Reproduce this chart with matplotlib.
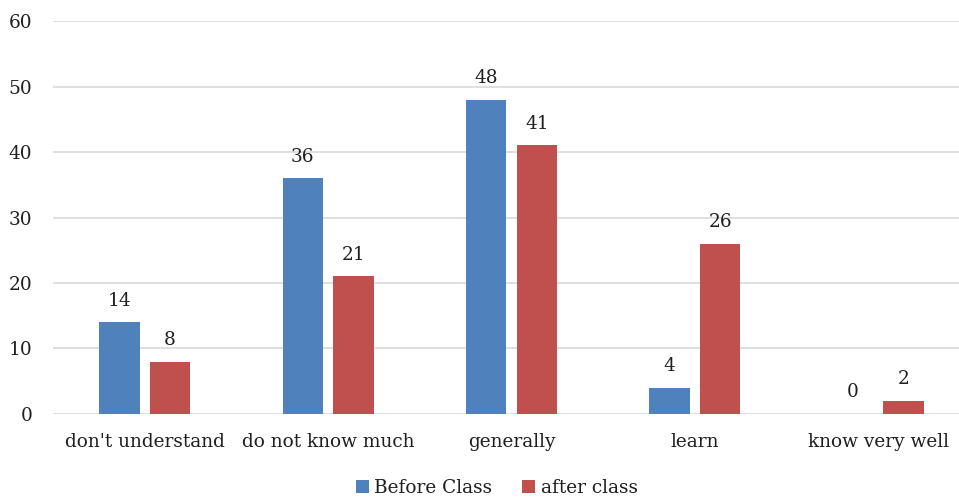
import matplotlib.pyplot as plt
import numpy as np

categories = ["don't understand", "do not know much", "generally", "learn", "know very well"]
before_class = [14, 36, 48, 4, 0]
after_class = [8, 21, 41, 26, 2]
y_ticks = [0, 10, 20, 30, 40, 50, 60]

plt.rcParams['font.family'] = ['DejaVu Serif']

fig = plt.figure(figsize=(9.59, 4.98), dpi=100)
ax = fig.add_axes([0.0553, 0.1687, 0.9447, 0.7891])

x = np.arange(len(categories))
width = 0.221
offset = 0.138

b1 = ax.bar(x - offset, before_class, width, color='#4F81BD', label='Before Class')
b2 = ax.bar(x + offset, after_class, width, color='#C0504D', label='after class')

# value labels above each bar
for bars, vals in [(b1, before_class), (b2, after_class)]:
    for rect, v in zip(bars, vals):
        ax.annotate(str(v), (rect.get_x() + rect.get_width() / 2, v),
                    xytext=(0, 9), textcoords='offset points',
                    ha='center', va='bottom', fontsize=13.3, color='#1f1f1f')

ax.set_xlim(-0.5, 4.44)
ax.set_ylim(0, 60)
ax.set_yticks(y_ticks)
ax.set_xticks(x)
ax.set_xticklabels(categories)
ax.tick_params(axis='both', length=0, labelsize=13.3, labelcolor='#1f1f1f')
ax.tick_params(axis='x', pad=14)
ax.tick_params(axis='y', pad=15)

ax.grid(axis='y', color='#D9D9D9', linewidth=1.2)
ax.set_axisbelow(True)
for s in ax.spines.values():
    s.set_visible(False)

fig.legend(handles=[b1, b2], loc='center', bbox_to_anchor=(0.518, 0.02),
           ncol=2, frameon=False, fontsize=13.3, handlelength=0.7, handleheight=0.7,
           handletextpad=0.3, columnspacing=1.6, labelcolor='#1f1f1f')

fig.savefig('out.png', dpi=100)
